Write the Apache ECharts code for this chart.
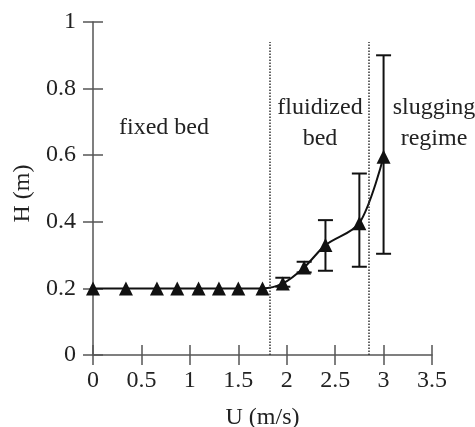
<!DOCTYPE html>
<html>
<head>
<meta charset="utf-8">
<script src="https://cdn.jsdelivr.net/npm/echarts@6/dist/echarts.min.js"></script>
<style>html,body{margin:0;padding:0;background:#fff}#c{width:475px;height:427px}</style>
</head>
<body>
<div id="c"></div>
<script>
// ---- data ----
const velocity = [0, 0.34, 0.66, 0.87, 1.09, 1.30, 1.50, 1.75, 1.96, 2.18, 2.40, 2.75, 3.00];
const height   = [0.2, 0.2, 0.2, 0.2, 0.2, 0.2, 0.2, 0.2, 0.215, 0.263, 0.33, 0.396, 0.595];
const errX     = [1.96, 2.18, 2.40, 2.75, 3.00];
const errLow   = [0.205, 0.248, 0.253, 0.265, 0.304];
const errHigh  = [0.232, 0.28, 0.405, 0.545, 0.90];
const regimeBounds = [1.83, 2.85];
const regimeTop = 0.94;
const xTicks = [0, 0.5, 1, 1.5, 2, 2.5, 3, 3.5];
const yTicks = [0, 0.2, 0.4, 0.6, 0.8, 1];

const FONT = '"Liberation Serif", "DejaVu Serif", serif';
const AX = '#555';
const TXT = '#222';
const FS = 24;

const chart = echarts.init(document.getElementById('c'));
const lineData = velocity.map((v, i) => [v, height[i]]);
const errData = errX.map((v, i) => [v, errLow[i], errHigh[i]]);

const option = {
  animation: false,
  backgroundColor: '#fff',
  grid: { left: 93, right: 43, top: 22, bottom: 72, containLabel: false, outerBoundsMode: 'none' },
  xAxis: [{
    type: 'value', min: xTicks[0], max: xTicks[xTicks.length - 1], interval: 0.5,
    position: 'bottom',
    name: 'U (m/s)', nameLocation: 'middle', nameGap: 51,
    nameTextStyle: { fontFamily: FONT, fontSize: FS, color: TXT },
    axisLine: { show: true, onZero: false, lineStyle: { color: AX, width: 1.5 } },
    axisTick: { show: true, length: 10, lineStyle: { color: AX, width: 1.5 } },
    axisLabel: { margin: 14, fontFamily: FONT, fontSize: FS, color: TXT },
    splitLine: { show: false }
  }, {
    type: 'value', min: xTicks[0], max: xTicks[xTicks.length - 1], interval: 0.5,
    position: 'bottom', offset: 0,
    axisLine: { show: false },
    axisTick: { show: true, inside: true, length: 10, lineStyle: { color: AX, width: 1.5 } },
    axisLabel: { show: false },
    splitLine: { show: false }
  }],
  yAxis: [{
    type: 'value', min: yTicks[0], max: yTicks[yTicks.length - 1], interval: 0.2,
    position: 'left',
    name: 'H (m)', nameLocation: 'middle', nameGap: 53,
    nameTextStyle: { fontFamily: FONT, fontSize: FS, color: TXT, padding: [0, 10, 0, 0] },
    axisLine: { show: true, onZero: false, lineStyle: { color: AX, width: 1.5 } },
    axisTick: { show: true, length: 10, lineStyle: { color: AX, width: 1.5 } },
    axisLabel: { margin: 17, fontFamily: FONT, fontSize: FS, color: TXT },
    splitLine: { show: false }
  }, {
    type: 'value', min: yTicks[0], max: yTicks[yTicks.length - 1], interval: 0.2,
    position: 'left', offset: 0,
    axisLine: { show: false },
    axisTick: { show: true, inside: true, length: 10, lineStyle: { color: AX, width: 1.5 } },
    axisLabel: { show: false },
    splitLine: { show: false }
  }],
  series: [{
    type: 'custom',
    xAxisIndex: 0, yAxisIndex: 0,
    data: errData,
    renderItem: function (params, api) {
      const x = api.value(0);
      const lo = api.coord([x, api.value(1)]);
      const hi = api.coord([x, api.value(2)]);
      const hw = 7.5;
      const st = { stroke: '#111', lineWidth: 2 };
      return {
        type: 'group',
        children: [
          { type: 'line', shape: { x1: lo[0], y1: lo[1], x2: hi[0], y2: hi[1] }, style: st },
          { type: 'line', shape: { x1: lo[0] - hw, y1: lo[1], x2: lo[0] + hw, y2: lo[1] }, style: st },
          { type: 'line', shape: { x1: hi[0] - hw, y1: hi[1], x2: hi[0] + hw, y2: hi[1] }, style: st }
        ]
      };
    },
    z: 3
  }, {
    type: 'line',
    xAxisIndex: 0, yAxisIndex: 0,
    data: lineData,
    smooth: 0.3,
    symbol: 'triangle',
    symbolSize: 14,
    itemStyle: { color: '#111' },
    lineStyle: { color: '#111', width: 2 },
    z: 4,
    markLine: {
      silent: true,
      symbol: 'none',
      label: { show: false },
      lineStyle: { type: 'dotted', color: '#333', width: 1.5 },
      data: regimeBounds.map(b => [{ coord: [b, 0] }, { coord: [b, regimeTop] }])
    }
  }],
  graphic: [
    { type: 'text', left: 119, top: 116, style: { text: 'fixed bed', font: FS + 'px ' + FONT, fill: TXT } },
    { type: 'text', x: 320, y: 123, style: { text: 'fluidized\nbed', font: FS + 'px ' + FONT, fill: TXT, align: 'center', verticalAlign: 'middle', lineHeight: 31 } },
    { type: 'text', x: 434, y: 123, style: { text: 'slugging\nregime', font: FS + 'px ' + FONT, fill: TXT, align: 'center', verticalAlign: 'middle', lineHeight: 31 } }
  ]
};
chart.setOption(option);
</script>
</body>
</html>
